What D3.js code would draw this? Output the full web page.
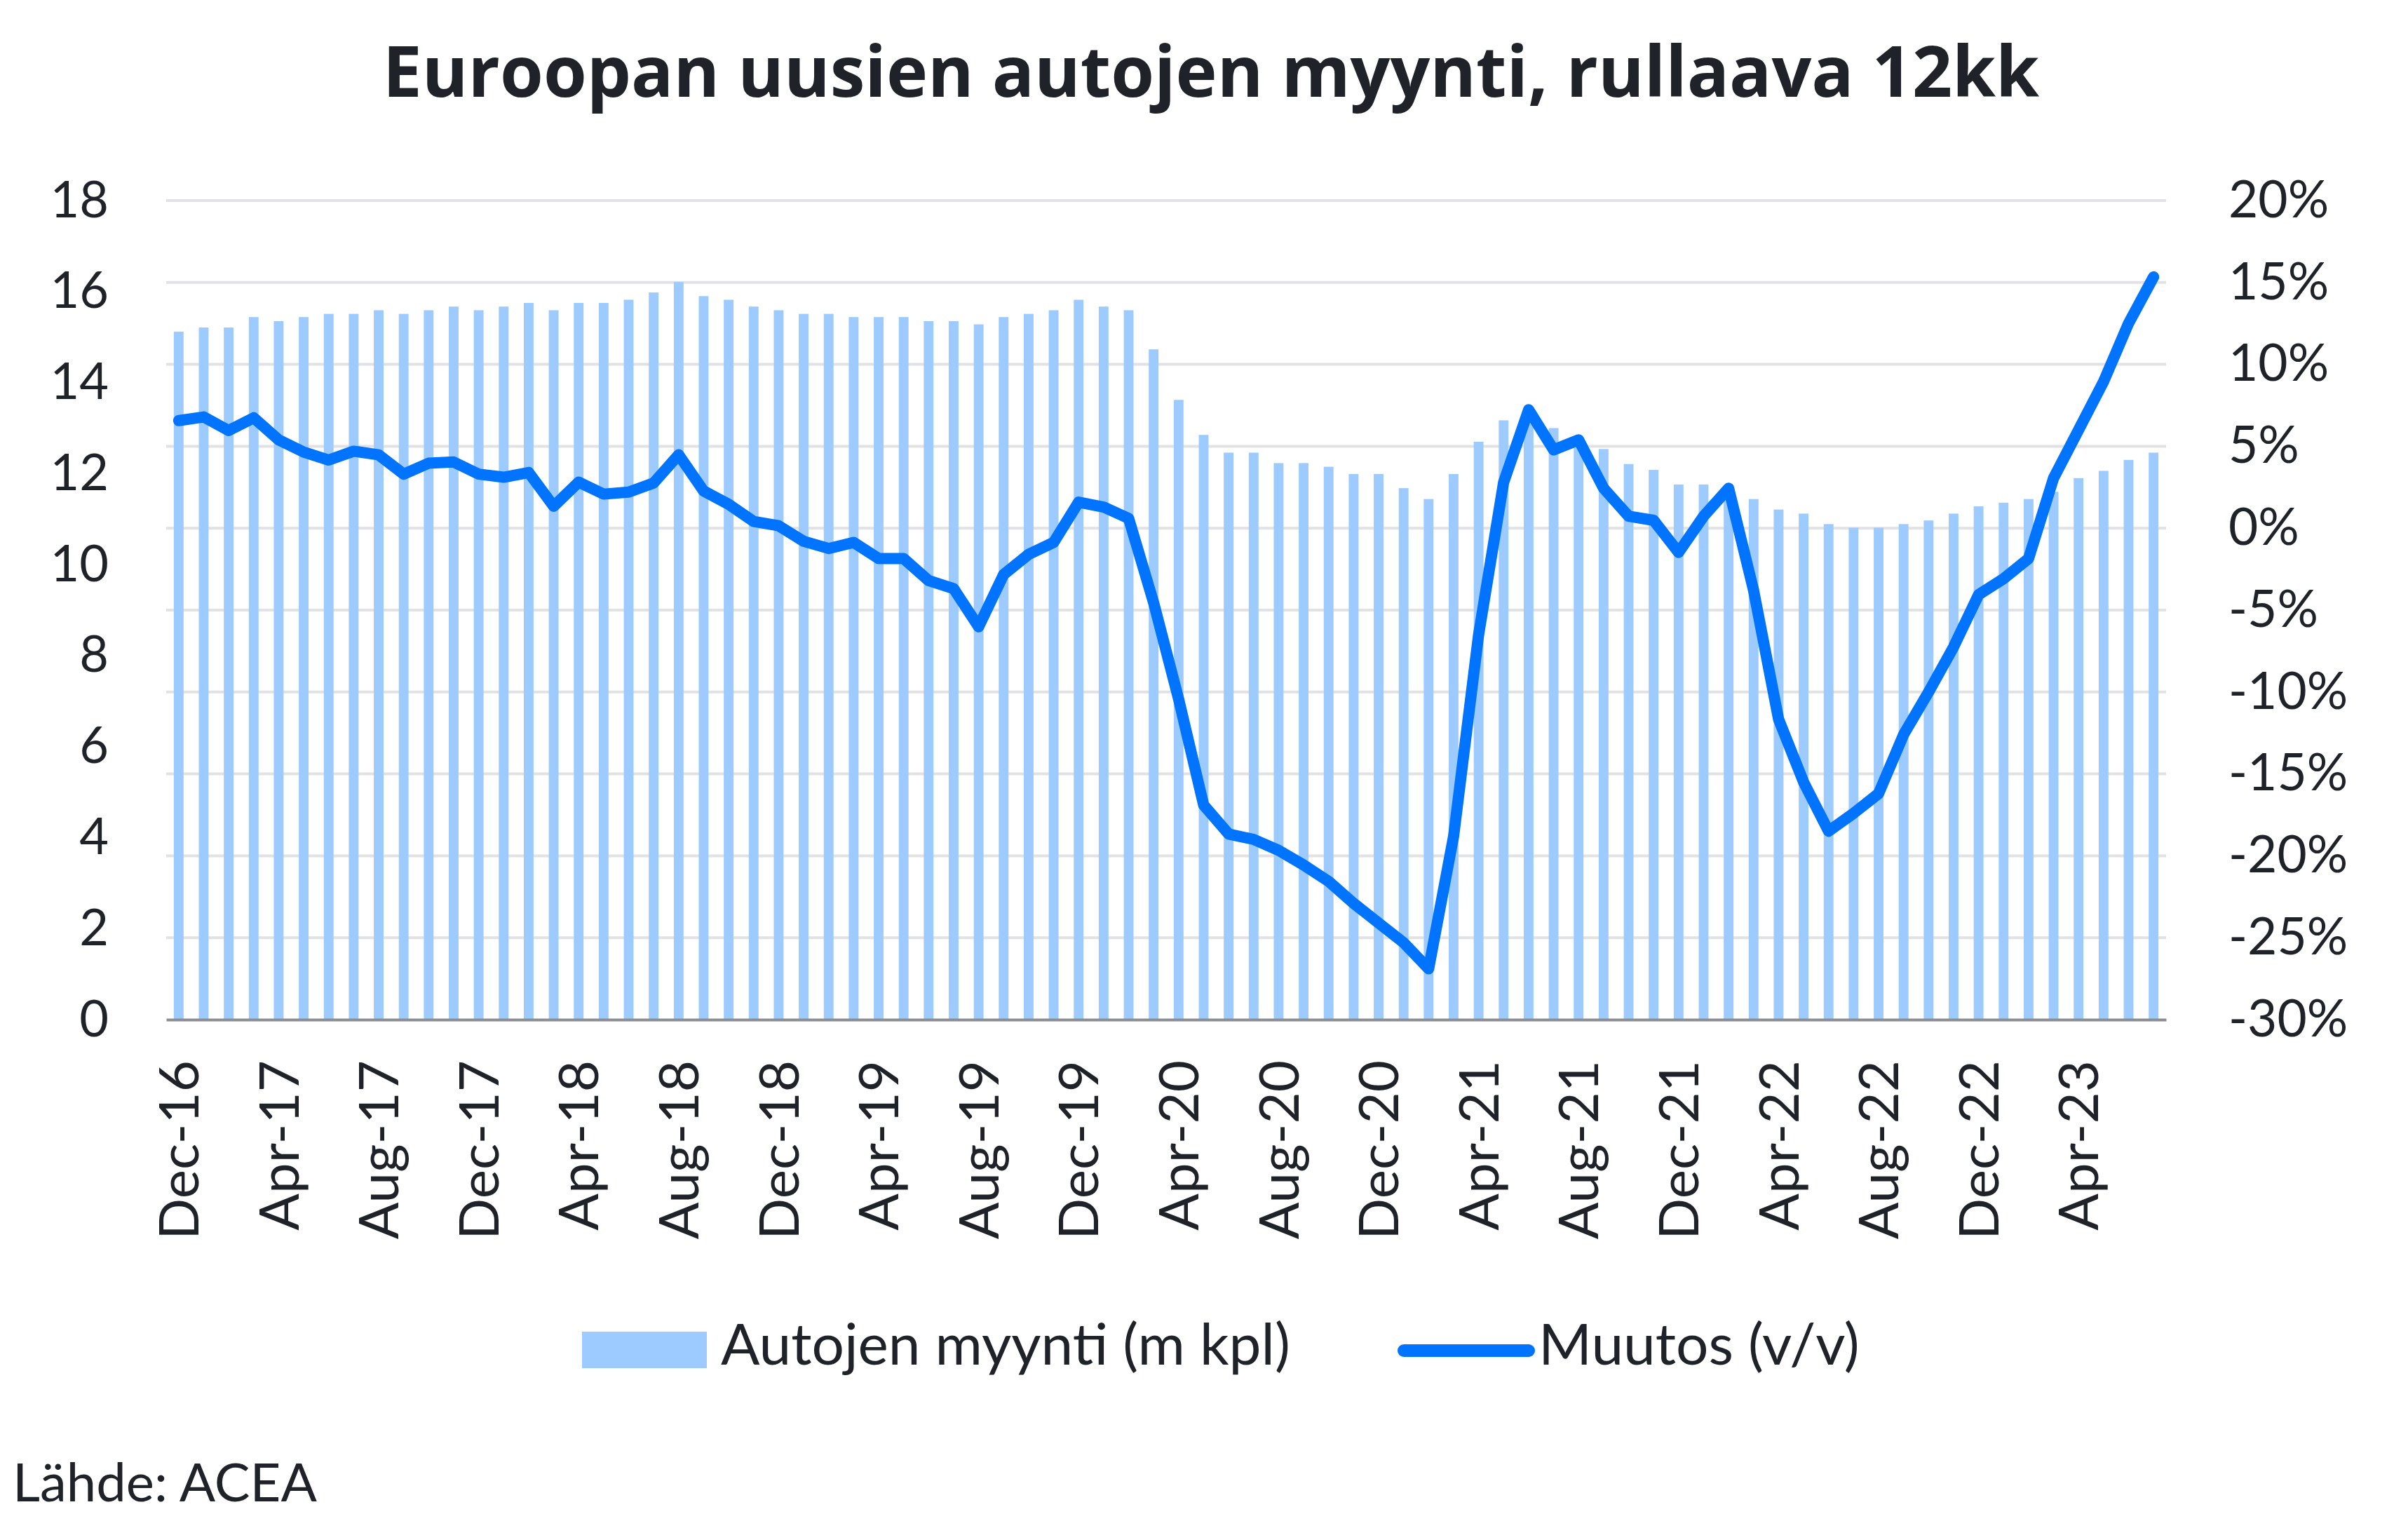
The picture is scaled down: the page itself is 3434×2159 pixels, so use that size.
<!DOCTYPE html>
<html>
<head>
<meta charset="utf-8">
<script src="https://cdn.jsdelivr.net/npm/d3@7"></script>
<style>
  body { margin: 0; background: #fff; }
  text { font-family: Lato, "Noto Sans", sans-serif; fill: #1f2329; }
</style>
</head>
<body>
<div class="vis-combo"></div>
<script>
// months Dec-16 ... Jul-23 (80 months)
const startMonth = new Date(2016, 11, 1);
const months = d3.timeMonth.range(startMonth, new Date(2023, 7, 1)).map(d3.timeFormat("%b-%y"));

const tickLabels = ["Dec-16", "Apr-17", "Aug-17", "Dec-17", "Apr-18", "Aug-18", "Dec-18",
  "Apr-19", "Aug-19", "Dec-19", "Apr-20", "Aug-20", "Dec-20", "Apr-21", "Aug-21",
  "Dec-21", "Apr-22", "Aug-22", "Dec-22", "Apr-23"];

// rolling 12m sales, million cars
const sales = [
  15.12, 15.21, 15.21, 15.44, 15.35, 15.44, 15.51, 15.51, 15.59, 15.51,
  15.59, 15.67, 15.59, 15.67, 15.75, 15.59, 15.75, 15.75, 15.82, 15.98,
  16.21, 15.90, 15.82, 15.67, 15.59, 15.51, 15.51, 15.44, 15.44, 15.44,
  15.35, 15.35, 15.28, 15.44, 15.51, 15.59, 15.82, 15.67, 15.59, 14.73,
  13.62, 12.85, 12.46, 12.46, 12.23, 12.23, 12.15, 11.99, 11.99, 11.68,
  11.44, 11.99, 12.70, 13.17, 13.10, 13.00, 12.80, 12.54, 12.21, 12.08,
  11.76, 11.76, 11.70, 11.44, 11.21, 11.12, 10.89, 10.81, 10.81, 10.89,
  10.97, 11.12, 11.28, 11.36, 11.44, 11.60, 11.90, 12.06, 12.30, 12.46
];

// y/y change, %
const change = [
  6.57, 6.79, 5.96, 6.74, 5.39, 4.65, 4.16, 4.70, 4.48, 3.30,
  3.97, 4.04, 3.30, 3.11, 3.40, 1.34, 2.81, 2.08, 2.20, 2.76,
  4.48, 2.27, 1.46, 0.41, 0.15, -0.80, -1.24, -0.87, -1.85, -1.85,
  -3.20, -3.69, -6.02, -2.83, -1.60, -0.87, 1.59, 1.29, 0.60, -4.55,
  -10.44, -16.90, -18.67, -19.00, -19.67, -20.56, -21.56, -22.90, -24.10, -25.30,
  -26.90, -18.80, -6.50, 2.80, 7.23, 4.78, 5.39, 2.44, 0.73, 0.48,
  -1.48, 0.73, 2.44, -3.80, -11.67, -15.50, -18.50, -17.40, -16.20, -12.60,
  -10.00, -7.25, -4.06, -3.08, -1.85, 3.06, 6.00, 8.95, 12.51, 15.34
];

const leftTicks = [0, 2, 4, 6, 8, 10, 12, 14, 16, 18];
const rightTicks = [-30, -25, -20, -15, -10, -5, 0, 5, 10, 15, 20];

const barColor = "#9dcbff";
const lineColor = "#0074ff";

const W = 3434, H = 2159;
const plot = { left: 237, right: 3089, top: 286, bottom: 1454 };

const svg = d3.select(".vis-combo")
  .append("svg")
  .attr("width", W)
  .attr("height", H);

svg.append("rect").attr("width", W).attr("height", H).attr("fill", "#fff");

const x = d3.scaleBand()
  .domain(months)
  .range([plot.left, plot.right])
  .paddingInner(0.61)
  .paddingOuter(0.305);

const yL = d3.scaleLinear().domain([0, 18]).range([plot.bottom, plot.top]);
const yR = d3.scaleLinear().domain([-30, 20]).range([plot.bottom, plot.top]);

// gridlines follow the right axis
svg.append("g")
  .selectAll("line")
  .data(rightTicks.slice(1))
  .enter()
  .append("line")
  .attr("x1", plot.left)
  .attr("x2", plot.right)
  .attr("y1", (d) => yR(d))
  .attr("y2", (d) => yR(d))
  .attr("stroke", "#e2e2e4")
  .attr("stroke-width", 4);

// bars
svg.append("g")
  .selectAll("rect")
  .data(sales)
  .enter()
  .append("rect")
  .attr("x", (d, i) => x(months[i]))
  .attr("width", x.bandwidth())
  .attr("y", (d) => yL(d))
  .attr("height", (d) => yL(0) - yL(d))
  .attr("fill", barColor);

// x axis
const xAxis = svg.append("g")
  .attr("transform", "translate(0," + plot.bottom + ")")
  .call(d3.axisBottom(x).tickValues(tickLabels).tickSize(0).tickSizeOuter(0));

xAxis.select(".domain").attr("stroke", "#8a8d91").attr("stroke-width", 4);
xAxis.selectAll("text")
  .attr("transform", "rotate(-90)")
  .attr("text-anchor", "end")
  .attr("x", -58)
  .attr("y", 0)
  .attr("dy", "0.36em")
  .style("font-size", "78px")
  .style("fill", "#1f2329");

// left axis
const leftAxis = svg.append("g")
  .attr("transform", "translate(" + plot.left + ",0)")
  .call(d3.axisLeft(yL).tickValues(leftTicks).tickSize(0).tickPadding(82));
leftAxis.select(".domain").remove();
leftAxis.selectAll("text").style("font-size", "72px").style("fill", "#1f2329");

// right axis
const rightAxis = svg.append("g")
  .attr("transform", "translate(" + plot.right + ",0)")
  .call(d3.axisRight(yR).tickValues(rightTicks).tickSize(0).tickPadding(89)
    .tickFormat((d) => d + "%"));
rightAxis.select(".domain").remove();
rightAxis.selectAll("text").style("font-size", "73px").style("fill", "#1f2329");

// change line
const line = d3.line()
  .x((d, i) => x(months[i]) + x.bandwidth() / 2)
  .y((d) => yR(d));

svg.append("path")
  .datum(change)
  .attr("d", line)
  .attr("fill", "none")
  .attr("stroke", lineColor)
  .attr("stroke-width", 16)
  .attr("stroke-linejoin", "round")
  .attr("stroke-linecap", "round");

// title
svg.append("text")
  .attr("x", 1727)
  .attr("y", 138)
  .attr("text-anchor", "middle")
  .style("font-family", "'Open Sans', Lato, sans-serif")
  .style("font-size", "100px")
  .style("font-weight", 700)
  .text("Euroopan uusien autojen myynti, rullaava 12kk");

// legend
const legend = svg.append("g");
legend.append("rect")
  .attr("x", 830).attr("y", 1899)
  .attr("width", 178).attr("height", 52)
  .attr("fill", barColor);
legend.append("text")
  .attr("x", 1028).attr("y", 1946)
  .style("font-size", "82px")
  .text("Autojen myynti (m kpl)");
legend.append("line")
  .attr("x1", 2002).attr("x2", 2180)
  .attr("y1", 1926).attr("y2", 1926)
  .attr("stroke", lineColor)
  .attr("stroke-width", 18)
  .attr("stroke-linecap", "round");
legend.append("text")
  .attr("x", 2194).attr("y", 1946)
  .style("font-size", "82px")
  .text("Muutos (v/v)");

// source
svg.append("text")
  .attr("x", 18)
  .attr("y", 2141)
  .style("font-size", "76px")
  .text("Lähde: ACEA");
</script>
</body>
</html>
